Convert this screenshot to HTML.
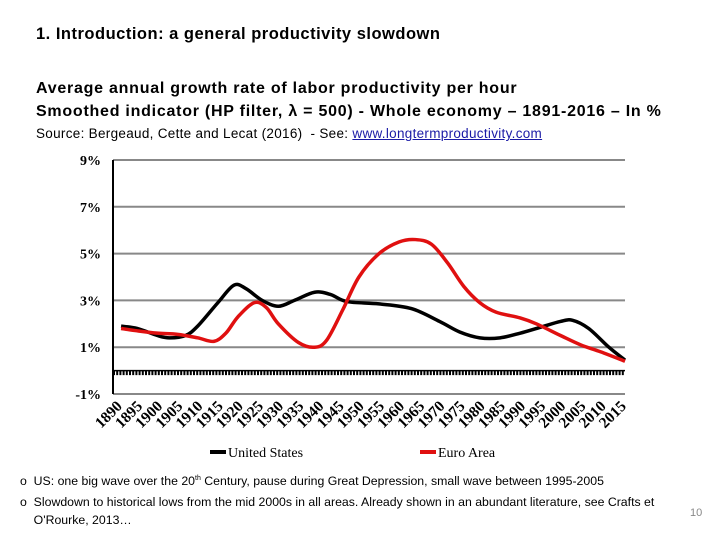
<!DOCTYPE html>
<html><head><meta charset="utf-8"><style>
body{margin:0;width:720px;height:540px;background:#fff;position:relative;overflow:hidden;font-family:"Liberation Sans",sans-serif}
.t{position:absolute;white-space:nowrap;color:#000}
</style></head><body>
<div class="t" style="left:36px;top:25px;font-size:16.5px;font-weight:bold;letter-spacing:0.5px">1. Introduction: a general productivity slowdown</div>
<div class="t" style="left:36px;top:77px;font-size:16px;font-weight:bold;letter-spacing:0.75px;line-height:23px">Average annual growth rate of labor productivity per hour<br>Smoothed indicator (HP filter, λ = 500) - Whole economy – 1891-2016 – In %</div>
<div class="t" style="left:36px;top:126px;font-size:13.5px;letter-spacing:0.3px">Source: Bergeaud, Cette and Lecat (2016)&nbsp; - See: <span style="color:#1a1aa6;text-decoration:underline">www.longtermproductivity.com</span></div>
<svg id="c" width="720" height="540" style="position:absolute;left:0;top:0"></svg>
<div class="t" style="left:20px;top:474px;font-size:12.3px">o&nbsp; US: one big wave over the 20<sup style="font-size:7px">th</sup> Century, pause during Great Depression, small wave between 1995-2005</div>
<div class="t" style="left:20px;top:493px;font-size:12.3px;line-height:18px">o&nbsp; Slowdown to historical lows from the mid 2000s in all areas. Already shown in an abundant literature, see Crafts et<br>&nbsp;&nbsp;&nbsp;&nbsp;O'Rourke, 2013…</div>
<div class="t" style="left:690px;top:507px;font-size:11px;color:#888">10</div>
<script>
const yTicks=[9,7,5,3,1,-1];
const xTickYears=[1890,1895,1900,1905,1910,1915,1920,1925,1930,1935,1940,1945,1950,1955,1960,1965,1970,1975,1980,1985,1990,1995,2000,2005,2010,2015];
const usYears=[1891,1895,1900,1903,1907,1910,1915,1919,1922,1926,1930,1934,1939,1943,1947,1955,1963,1970,1975,1980,1985,1990,1995,2000,2003,2007,2012,2016];
const usValues=[1.9,1.8,1.5,1.4,1.5,1.9,2.9,3.65,3.5,3.0,2.75,3.0,3.35,3.25,2.95,2.85,2.65,2.1,1.65,1.4,1.4,1.6,1.85,2.1,2.15,1.8,1.0,0.45];
const euYears=[1891,1895,1900,1905,1910,1914,1917,1920,1924,1927,1930,1935,1939,1942,1946,1950,1955,1960,1964,1968,1972,1976,1980,1984,1990,1994,2000,2005,2010,2016];
const euValues=[1.8,1.7,1.6,1.55,1.4,1.25,1.6,2.3,2.9,2.7,2.0,1.2,1.0,1.3,2.6,4.0,5.0,5.5,5.6,5.4,4.6,3.6,2.9,2.5,2.25,2.0,1.5,1.1,0.8,0.4];
const NS='http://www.w3.org/2000/svg',svg=document.getElementById('c');
const X0=113,X1=625,Y9=160,Ym1=394;
const xs=y=>X0+(y-1889)*(X1-X0)/(2016-1889);
const ys=v=>Y9+(9-v)*(Ym1-Y9)/10;
function el(t,a){const e=document.createElementNS(NS,t);for(const k in a)e.setAttribute(k,a[k]);svg.appendChild(e);return e;}
yTicks.forEach(v=>{
 if(v>-1){const g=el('line',{x1:X0,x2:X1,y1:ys(v),y2:ys(v),stroke:'#888','stroke-width':2});
 
 }
 const t=el('text',{x:X0-12,y:ys(v)+5,'text-anchor':'end','font-family':'Liberation Serif,serif','font-weight':'bold','font-size':14});
 t.textContent=v+'%';
 
 
});
const bl=el('line',{x1:X0,x2:X1,y1:ys(-1),y2:ys(-1),stroke:'#888','stroke-width':2});


const zl=el('line',{x1:X0,x2:X1,y1:ys(0)+2,y2:ys(0)+2,stroke:'#000','stroke-width':5,'stroke-dasharray':'2 1.2'});


const zl2=el('line',{x1:X0,x2:X1,y1:ys(0),y2:ys(0),stroke:'#000','stroke-width':1.5});


const ya=el('line',{x1:X0,x2:X0,y1:Y9,y2:Ym1,stroke:'#000','stroke-width':2});


xTickYears.forEach(y=>{
 const x=xs(y)+6,yy=ys(-1)+13;
 const t=el('text',{x:x,y:yy,'text-anchor':'end','font-family':'Liberation Serif,serif','font-weight':'bold','font-size':15.5,transform:`rotate(-45 ${x} ${yy})`});
 t.textContent=y;
 
 
});
function path(yr,vals){
 const p=yr.map((y,i)=>[xs(y),ys(vals[i])]);let d='M'+p[0][0]+','+p[0][1];
 for(let i=0;i<p.length-1;i++){const a=p[Math.max(0,i-1)],b=p[i],c=p[i+1],e=p[Math.min(p.length-1,i+2)];
  d+=` C${b[0]+(c[0]-a[0])/6},${b[1]+(c[1]-a[1])/6} ${c[0]-(e[0]-b[0])/6},${c[1]-(e[1]-b[1])/6} ${c[0]},${c[1]}`;}
 return d;}
const us=el('path',{d:path(usYears,usValues),fill:'none',stroke:'#000','stroke-width':3.5});


const eu=el('path',{d:path(euYears,euValues),fill:'none',stroke:'#e01010','stroke-width':3.5});


[['United States','#000',210],['Euro Area','#e01010',420]].forEach(([n,c,x])=>{
 const l=el('line',{x1:x,x2:x+16,y1:452,y2:452,stroke:c,'stroke-width':4});
 
 
 const t=el('text',{x:x+18,y:457,'font-family':'Liberation Serif,serif','font-size':14});
 t.textContent=n;
 
 
});
</script>
</body></html>
